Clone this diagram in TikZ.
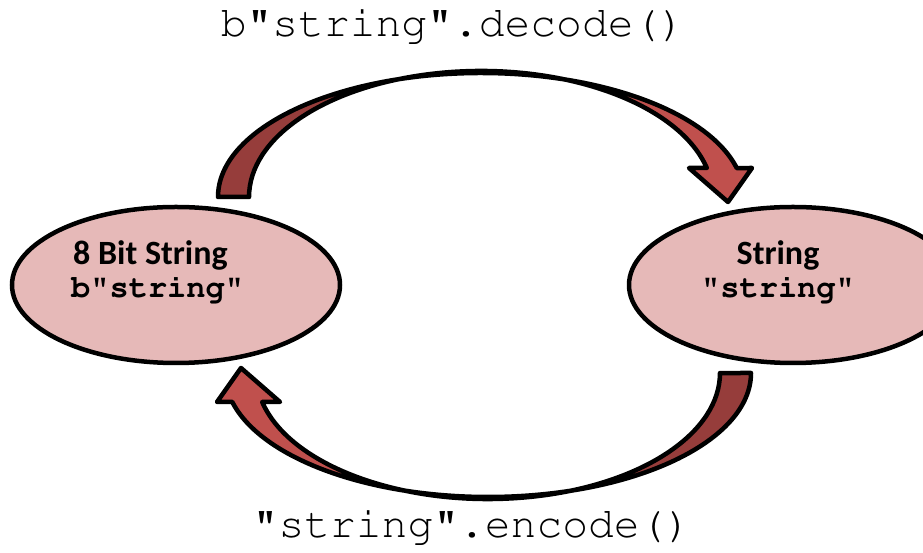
\documentclass[tikz,border=0pt]{standalone}
\usepackage[T1]{fontenc}
\usepackage{fontspec}
\setmainfont{Carlito}
\usetikzlibrary{shapes.geometric}
\newcommand\courier{\fontencoding{T1}\fontfamily{pcr}\selectfont}
\definecolor{arrowdark}{RGB}{150,61,59}
\definecolor{arrowlight}{RGB}{192,80,77}
\definecolor{ovalfill}{RGB}{230,185,184}
\tikzset{
  oval/.style={ellipse,draw=black,line width=4.5pt,fill=ovalfill,
    minimum width=328pt,minimum height=156pt,inner sep=0pt},
  ovaltitle/.style={font=\bfseries\fontsize{34}{34}\selectfont,inner sep=0pt},
  ovalcode/.style={font=\courier\bfseries\fontsize{32}{33}\selectfont,inner sep=0pt},
  callcode/.style={font=\courier\fontsize{43}{43}\selectfont,inner sep=0pt},
  outline/.style={draw=black,line width=4.5pt,line join=round}
}
% twisted band arrow, #1 = turn about the middle of the picture
\newcommand\bandarrow[1]{%
  \begin{scope}[rotate around={#1:(484.5,268)}]
    \fill[arrowdark] (218,356) arc[start angle=180,end angle=108.4,x radius=263,y radius=124]
      arc[start angle=110.9,end angle=180,x radius=232,y radius=126] -- cycle;
    \fill[arrowlight] (564,473.7) arc[start angle=71.6,end angle=13.5,x radius=263,y radius=124]
      -- (752,385) -- (728,351) -- (689,385) -- (706.8,385)
      arc[start angle=13.3,end angle=69.1,x radius=232,y radius=126] -- cycle;
    \draw[outline] (218,356) arc[start angle=180,end angle=13.5,x radius=263,y radius=124]
      -- (752,385) -- (728,351) -- (689,385) -- (706.8,385)
      arc[start angle=13.3,end angle=180,x radius=232,y radius=126] -- cycle;
  \end{scope}
}
\begin{document}
\begin{tikzpicture}[x=1pt,y=1pt]
  \useasboundingbox (0,0) rectangle (923,553);
  \clip (0,0) rectangle (923,553);
  \fill[white] (0,0) rectangle (923,553);

  % The two kinds of string
  \node[oval] (bytes) at (176,268) {};
  \node[oval] (str) at (793,268) {};
  \node[ovaltitle,anchor=base west] (bytestitle) at (73,288) {8 Bit String};
  \node[ovalcode,anchor=base west] (bytescode) at (71,255) {b"string"};
  \node[ovaltitle,anchor=base] (strtitle) at (778,288) {String};
  \node[ovalcode,anchor=base] (strcode) at (778,255) {"string"};

  % The arrows between them
  \bandarrow{0}
  \bandarrow{180}

  % The calls
  \node[callcode,anchor=base] (decode) at (453,516) {b"string".decode()};
  \node[callcode,anchor=base] (encode) at (472,15) {"string".encode()};
\end{tikzpicture}
\end{document}
